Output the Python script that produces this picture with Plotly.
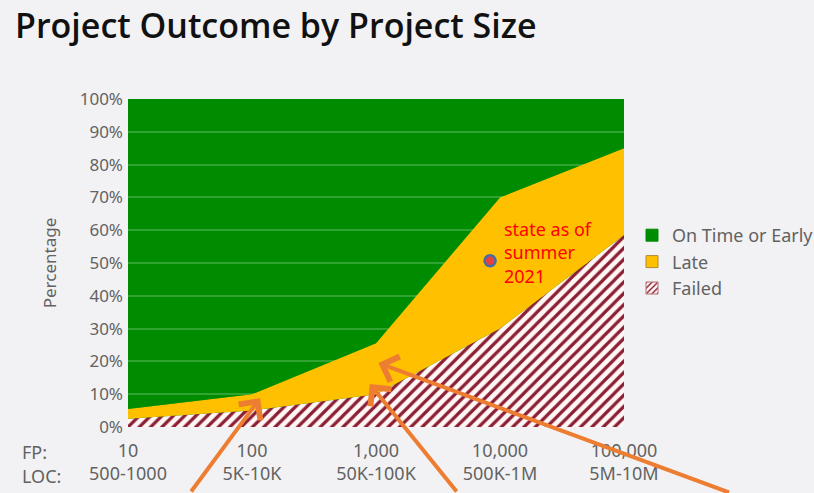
import plotly.graph_objects as go

# Project size categories (function points and lines of code)
fp_labels = ["10", "100", "1,000", "10,000", "100,000"]
loc_labels = ["500-1000", "5K-10K", "50K-100K", "500K-1M", "5M-10M"]

# Outcome shares in percent for each size class
failed = [2.5, 5, 10, 30, 58.5]
late = [3, 5, 15.5, 40, 26.5]
on_time = [94.5, 90, 74.5, 30, 15]

# Current position marker
marker_x = [2.92]
marker_y = [50.7]

x_pos = list(range(len(fp_labels)))
tick_text = [f"{a}<br>{b}" for a, b in zip(fp_labels, loc_labels)]

GREEN = "rgb(0,140,0)"
YELLOW = "rgb(255,192,0)"
HATCH = "rgb(140,30,50)"
HATCH_BG = "rgb(255,246,246)"
ORANGE = "rgb(237,125,49)"
GREY = "#626262"
FONT = "Noto Sans"

fig = go.Figure()

hatch = dict(shape="/", fgcolor=HATCH, fgopacity=1, bgcolor=HATCH_BG,
             size=8, solidity=0.4)

fig.add_trace(go.Scatter(
    x=x_pos, y=failed, name="Failed", stackgroup="outcome",
    mode="lines", line=dict(width=0, color=HATCH), fillcolor=HATCH_BG,
    fillpattern=hatch, showlegend=False,
))
fig.add_trace(go.Scatter(
    x=x_pos, y=late, name="Late", stackgroup="outcome",
    mode="lines", line=dict(width=0, color=YELLOW), fillcolor=YELLOW,
    showlegend=False,
))
fig.add_trace(go.Scatter(
    x=x_pos, y=on_time, name="On Time or Early", stackgroup="outcome",
    mode="lines", line=dict(width=0, color=GREEN),
    fillcolor="rgba(0,140,0,0.55)", showlegend=False,
))
fig.add_trace(go.Scatter(
    x=marker_x, y=marker_y, mode="markers", showlegend=False,
    marker=dict(size=11, color="rgb(232,64,60)",
                line=dict(color="rgb(70,110,165)", width=2.5)),
))

# square legend keys for the three outcome areas
for name, color, pattern, edge in [
    ("Failed", HATCH_BG, dict(shape="/", fgcolor=HATCH, fgopacity=1,
                              bgcolor=HATCH_BG, size=5, solidity=0.35),
     "rgb(180,110,120)"),
    ("Late", YELLOW, None, "rgb(170,140,60)"),
    ("On Time or Early", GREEN, None, GREEN),
]:
    fig.add_trace(go.Bar(
        x=[None], y=[None], name=name,
        marker=dict(color=color, pattern=pattern,
                    line=dict(color=edge, width=1)),
    ))

arrows = [
    (1.065, 8.8, -70, 98),
    (1.95, 13.1, 88, 112),
    (2.02, 19.5, 352, 130),
]
annotations = []
for x, y, ax, ay in arrows:
    annotations.append(dict(
        x=x, y=y, xref="x", yref="y", ax=ax, ay=ay, text="",
        showarrow=True, arrowhead=4, arrowsize=1.3, arrowwidth=4,
        arrowcolor=ORANGE,
    ))

annotations.append(dict(
    x=3.02, y=64.6, xref="x", yref="y", xanchor="left", yanchor="top",
    text="state as of<br>summer<br>2021", showarrow=False, align="left",
    font=dict(family=FONT, size=18, color="rgb(255,0,0)"),
))
annotations.append(dict(
    x=20, y=452, xref="paper", yref="paper", showarrow=False,
    text="FP:", xanchor="left", yanchor="middle",
    font=dict(family=FONT, size=18, color=GREY),
))
annotations.append(dict(
    x=20, y=476, xref="paper", yref="paper", showarrow=False,
    text="LOC:", xanchor="left", yanchor="middle",
    font=dict(family=FONT, size=18, color=GREY),
))

# convert the two axis-row labels from pixel to paper coordinates
L, R, T, B = 128, 190, 99, 66
W, H = 814, 493
pw, ph = W - L - R, H - T - B
for a in annotations[-2:]:
    a["x"] = (a["x"] - L) / pw
    a["y"] = (H - B - a["y"]) / ph

fig.update_layout(
    width=W, height=H,
    margin=dict(l=L, r=R, t=T, b=B, autoexpand=False),
    paper_bgcolor="#f2f2f4",
    plot_bgcolor=GREEN,
    showlegend=True,
    title=dict(
        text="Project Outcome by Project Size",
        x=15 / W, xref="container", xanchor="left",
        y=1 - 26 / H, yref="container", yanchor="middle",
        font=dict(family="Open Sans", size=34, color="#111111", weight=600),
    ),
    xaxis=dict(
        range=[0, 4], tickmode="array", tickvals=x_pos, ticktext=tick_text,
        showgrid=False, zeroline=False, showline=False, ticks="",
        ticklabelstandoff=11,
        tickfont=dict(family=FONT, size=18, color=GREY),
    ),
    yaxis=dict(
        range=[0, 100], dtick=10, ticksuffix="%",
        showgrid=True, gridcolor="rgb(110,190,110)", gridwidth=1.5,
        zeroline=False, showline=False, ticks="",
        ticklabelstandoff=4,
        tickfont=dict(family=FONT, size=17, color=GREY),
        title=dict(text="Percentage", standoff=18,
                   font=dict(family=FONT, size=17, color=GREY)),
    ),
    legend=dict(
        x=(632 - L) / pw, y=(H - B - 262) / ph, xanchor="left", yanchor="middle",
        traceorder="reversed", bgcolor="rgba(0,0,0,0)",
        font=dict(family=FONT, size=18, color=GREY),
        itemwidth=30, tracegroupgap=0,
    ),
    annotations=annotations,
)

fig.write_html("out.html")
